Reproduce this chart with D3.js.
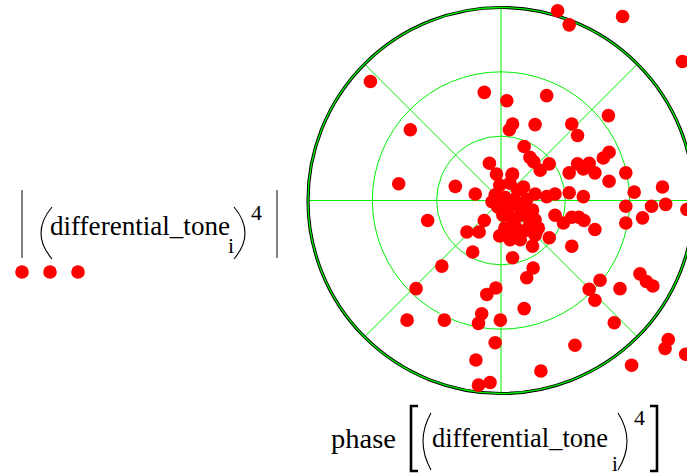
<!DOCTYPE html>
<html>
<head>
<meta charset="utf-8">
<script src="https://cdn.jsdelivr.net/npm/d3@7"></script>
<style>
    body { margin: 0; background: #fff; }
</style>
</head>
<body>
<div id="chart"></div>
<script>
let tone_re = [0.88, 1.06, 1.89, 2.82, -2.03, -0.26, 0.09, 0.71, 1.67, -1.41,
    0.18, 0.13, 0.53, 1.10, 1.19, 0.36, 0.45, 0.51, 0.61, 0.75,
    1.19, 1.28, 1.37, 1.46, 1.06, 1.59, 1.68, 1.94, 1.68, 2.51,
    2.07, 2.56, 0.84, 1.06, 1.28, 0.53, -1.59, -0.18, -0.07, -0.71,
    -0.40, 0.18, -1.14, -0.26, -0.53, -0.34, -0.44, -0.92, -1.32, -0.08,
    -0.22, -1.46, -0.88, -0.30, -0.35, -0.01, -0.09, -0.39, -0.35, -0.17,
    1.94, 2.34, 2.89, 1.94, 2.20, 0.84, 0.97, 1.10, 1.21, 1.29,
    1.46, 0.75, 1.10, 0.49, 0.18, 0.50, 0.40, 1.54, 1.37, 1.46,
    1.85, 2.16, 2.26, 2.36, 0.36, 1.76, 2.60, 2.55, 2.87, 1.15,
    2.03, 0.62, 0.49, 0.53, 0.58, 0.53, 0.09, 0.19, 0.14, 0.26,
    0.40, 0.71, 0.35, 0.17, 0.45, 0.55, -0.02, 0.14, 0.26, -0.09,
    0.06, 0.20, -0.05, 0.11, 0.26, -0.14, 0.03, 0.17, 0.30, 0.06,
    0.22, -0.02, 0.30, 0.40, 0.39];
let tone_im = [2.95, 2.73, 2.86, 2.16, 1.85, 1.68, 1.55, 1.63, 1.32, 1.10,
    1.19, 1.10, 1.18, 1.19, 1.01, 0.84, 0.67, 0.60, 0.47, 0.57,
    0.57, 0.49, 0.58, 0.43, 0.43, 0.66, 0.75, 0.43, 0.30, 0.21,
    0.13, -0.06, 0.10, 0.12, 0.06, 0.10, 0.26, 0.58, 0.41, 0.22,
    0.10, 0.41, -0.31, -0.31, -0.49, -0.49, -0.80, -1.02, -1.37, -1.36,
    -1.46, -1.86, -1.86, -1.76, -1.91, -1.86, -2.21, -2.48, -2.87, -2.83,
    -0.09, -0.09, -0.14, -0.35, -0.27, -0.23, -0.35, -0.26, -0.26, -0.31,
    -0.45, -0.58, -0.71, -0.71, -0.89, -1.05, -1.20, -1.24, -1.38, -1.55,
    -1.37, -1.14, -1.26, -1.33, -1.68, -1.90, -2.16, -2.30, -2.39, -2.25,
    -2.56, -2.65, -0.15, -0.30, -0.43, -0.54, -0.46, -0.56, -0.61, -0.49,
    -0.15, 0.06, 0.21, 0.40, -0.33, -0.48, 0.24, 0.27, 0.16, 0.09,
    0.05, 0.01, -0.10, -0.12, -0.07, -0.02, -0.23, -0.27, -0.23, -0.43,
    -0.40, -0.55, -0.61, 0.02, -0.46];

// polar grid
let ring_values = [1, 2, 3];
let spoke_angles = [0, 45, 90, 135, 180, 225, 270, 315];
let r_max = 3;

// magnitude and phase, like Mathcad does
let points = tone_re.map((re, i) => ({
    mag: Math.hypot(re, tone_im[i]),
    phase: Math.atan2(tone_im[i], re)
}));

let width = 687, height = 475;
let cx = 501, cy = 200.5, radius = 193;
let green = "#00f000";
let serif = "'Liberation Serif', 'Times New Roman', Times";

let svg = d3.select("#chart").append("svg")
    .attr("width", width)
    .attr("height", height);

let r = d3.scaleLinear().domain([0, r_max]).range([0, radius]);

let plot = svg.append("g").attr("transform", `translate(${cx},${cy})`);

// spokes
plot.selectAll(".spoke")
    .data(spoke_angles)
    .enter()
    .append("line")
    .attr("x1", 0).attr("y1", 0)
    .attr("x2", d => d3.pointRadial(Math.PI / 2 - d * Math.PI / 180, r(r_max))[0])
    .attr("y2", d => d3.pointRadial(Math.PI / 2 - d * Math.PI / 180, r(r_max))[1])
    .attr("stroke", green)
    .attr("stroke-width", 1);

// rings (the outer one gets a black border)
plot.append("circle")
    .attr("r", r(r_max))
    .attr("fill", "none")
    .attr("stroke", "#000")
    .attr("stroke-width", 3.2);

plot.selectAll(".ring")
    .data(ring_values)
    .enter()
    .append("circle")
    .attr("r", d => r(d))
    .attr("fill", "none")
    .attr("stroke", green)
    .attr("stroke-width", d => d === r_max ? 1.3 : 1);

// the points
plot.selectAll(".pt")
    .data(points)
    .enter()
    .append("circle")
    .attr("cx", d => d3.pointRadial(Math.PI / 2 - d.phase, r(d.mag))[0])
    .attr("cy", d => d3.pointRadial(Math.PI / 2 - d.phase, r(d.mag))[1])
    .attr("r", 6.8)
    .attr("fill", "#ff0000");

// left label: |(differential_tone_i)^4| with the marker below
let leg = svg.append("g").style("font-family", serif).attr("fill", "#000");
leg.append("line").attr("x1", 22).attr("x2", 22).attr("y1", 190).attr("y2", 258)
    .attr("stroke", "#000").attr("stroke-width", 1);
leg.append("line").attr("x1", 277).attr("x2", 277).attr("y1", 190).attr("y2", 258)
    .attr("stroke", "#000").attr("stroke-width", 1);
leg.append("path").attr("d", "M52,207 Q30,233 52,259")
    .attr("fill", "none").attr("stroke", "#000").attr("stroke-width", 1.1);
leg.append("path").attr("d", "M234,207 Q256,233 234,259")
    .attr("fill", "none").attr("stroke", "#000").attr("stroke-width", 1.1);
leg.append("text").attr("x", 50).attr("y", 235).attr("font-size", 27)
    .attr("textLength", 180).attr("lengthAdjust", "spacingAndGlyphs")
    .text("differential_tone");
leg.append("text").attr("x", 228).attr("y", 253).attr("font-size", 22).text("i");
leg.append("text").attr("x", 251).attr("y", 220).attr("font-size", 22).text("4");

leg.selectAll(".mark")
    .data([22, 50, 78])
    .enter()
    .append("circle")
    .attr("cx", d => d)
    .attr("cy", 272)
    .attr("r", 6.8)
    .attr("fill", "#ff0000");

// bottom label: phase[(differential_tone_i)^4]
let lab = svg.append("g").style("font-family", serif).attr("fill", "#000");
lab.append("text").attr("x", 331).attr("y", 448).attr("font-size", 27)
    .attr("textLength", 65).attr("lengthAdjust", "spacingAndGlyphs")
    .text("phase");
lab.append("path").attr("d", "M418,406 H411 V471 H418")
    .attr("fill", "none").attr("stroke", "#000").attr("stroke-width", 2.6);
lab.append("path").attr("d", "M431,413 Q415,441 431,470")
    .attr("fill", "none").attr("stroke", "#000").attr("stroke-width", 1.1);
lab.append("text").attr("x", 432).attr("y", 447).attr("font-size", 27)
    .attr("textLength", 176).attr("lengthAdjust", "spacingAndGlyphs")
    .text("differential_tone");
lab.append("text").attr("x", 612).attr("y", 471).attr("font-size", 21).text("i");
lab.append("path").attr("d", "M618,413 Q636,441 618,470")
    .attr("fill", "none").attr("stroke", "#000").attr("stroke-width", 1.1);
lab.append("text").attr("x", 634).attr("y", 425).attr("font-size", 22).text("4");
lab.append("path").attr("d", "M650,406 H657 V471 H650")
    .attr("fill", "none").attr("stroke", "#000").attr("stroke-width", 2.6);
</script>
</body>
</html>
